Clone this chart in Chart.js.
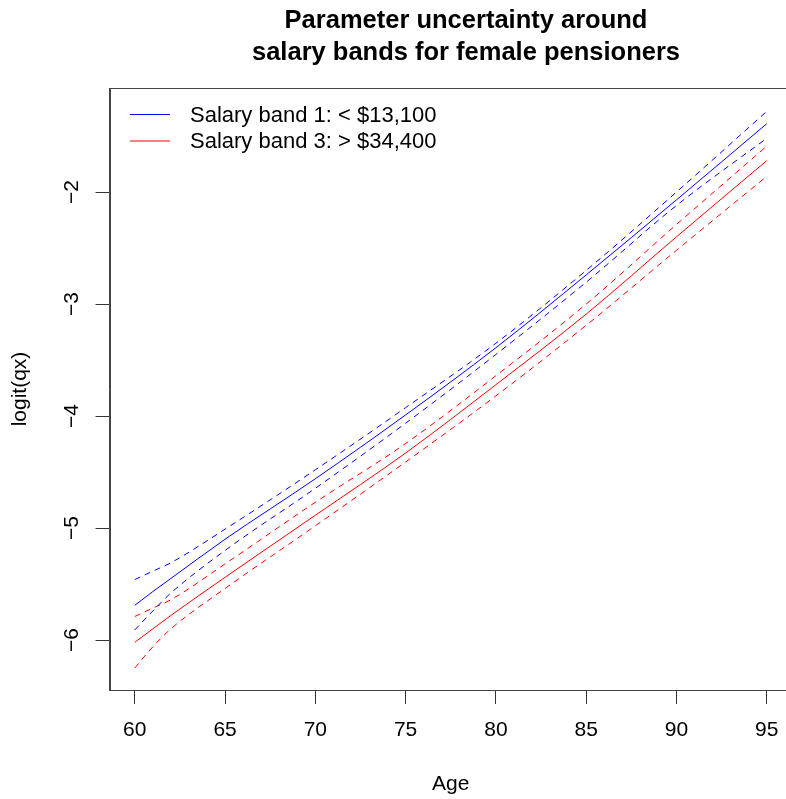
<!DOCTYPE html>
<html>
<head>
<meta charset="utf-8">
<script src="https://cdn.jsdelivr.net/npm/chart.js@4.4.1/dist/chart.umd.min.js"></script>
<style>
  html, body { margin: 0; padding: 0; background: #fff; }
  #wrap { width: 786px; height: 799px; overflow: hidden; }
  canvas { display: block; }
</style>
</head>
<body>
<div id="wrap"><canvas id="grafico" width="800" height="799"></canvas></div>
<script>
// idades e logit(qx)
const ages = [60, 61, 62, 65, 70, 75, 80, 85, 90, 95];

const band1Mid   = [-5.69, -5.567, -5.45, -5.10, -4.56, -3.99, -3.39, -2.74, -2.07, -1.39];
const band1Upper = [-5.46, -5.385, -5.31, -5.01, -4.48, -3.925, -3.35, -2.70, -2.00, -1.28];
const band1Lower = [-5.91, -5.74, -5.58, -5.20, -4.645, -4.064, -3.45, -2.805, -2.12, -1.52];

const band3Mid   = [-6.02, -5.90, -5.78, -5.44, -4.886, -4.33, -3.72, -3.09, -2.40, -1.72];
const band3Upper = [-5.79, -5.714, -5.64, -5.32, -4.77, -4.245, -3.64, -3.00, -2.29, -1.59];
const band3Lower = [-6.25, -6.06, -5.90, -5.54, -4.98, -4.41, -3.82, -3.19, -2.52, -1.86];

const ageTicks = [60, 65, 70, 75, 80, 85, 90, 95];
const logitTicks = [-6, -5, -4, -3, -2];

const titleLines = ['Parameter uncertainty around', 'salary bands for female pensioners'];
const legendLabels = ['Salary band 1: < $13,100', 'Salary band 3: > $34,400'];

const FONT = "'Liberation Sans', Arial, sans-serif";
const AZUL = '#0000ff';
const VERMELHO = '#ff0000';

function serie(label, valores, cor, tracejada) {
  return {
    label,
    data: ages.map((a, i) => ({ x: a, y: valores[i] })),
    borderColor: cor,
    backgroundColor: cor,
    borderWidth: 1,
    borderDash: tracejada ? [6, 5] : [],
    pointRadius: 0,
    cubicInterpolationMode: 'monotone',
    fill: false,
  };
}

const datasets = [
  serie(legendLabels[0], band1Mid, AZUL, false),
  serie('band1 upper', band1Upper, AZUL, true),
  serie('band1 lower', band1Lower, AZUL, true),
  serie(legendLabels[1], band3Mid, VERMELHO, false),
  serie('band3 upper', band3Upper, VERMELHO, true),
  serie('band3 lower', band3Lower, VERMELHO, true),
];

// moldura, título e legenda no estilo do R
const pluginMoldura = {
  id: 'moldura',
  afterDraw(chart) {
    const { ctx, chartArea } = chart;
    const { left, right, top, bottom } = chartArea;
    ctx.save();
    ctx.strokeStyle = '#444';
    ctx.lineWidth = 1;
    ctx.strokeRect(Math.round(left) + 0.5, Math.round(top) + 0.5,
      Math.round(right - left), Math.round(bottom - top));

    ctx.fillStyle = '#000';
    ctx.font = `bold 25.5px ${FONT}`;
    ctx.textAlign = 'center';
    ctx.textBaseline = 'alphabetic';
    ctx.fillText(titleLines[0], 466, 27.5);
    ctx.fillText(titleLines[1], 466, 60);

    const cores = [AZUL, VERMELHO];
    const ys = [114.5, 141];
    ctx.font = `22px ${FONT}`;
    ctx.textAlign = 'left';
    ctx.textBaseline = 'middle';
    legendLabels.forEach((txt, i) => {
      ctx.strokeStyle = cores[i];
      ctx.lineWidth = 1;
      ctx.beginPath();
      ctx.moveTo(130, ys[i]);
      ctx.lineTo(170, ys[i]);
      ctx.stroke();
      ctx.fillStyle = '#000';
      ctx.fillText(txt, 190, ys[i] + 1);
    });
    ctx.restore();
  }
};

new Chart(document.getElementById('grafico'), {
  type: 'line',
  data: { datasets },
  plugins: [pluginMoldura],
  options: {
    responsive: false,
    animation: false,
    layout: { padding: { top: 88, right: 8, left: 0, bottom: 0 } },
    plugins: {
      legend: { display: false },
      tooltip: { enabled: false },
    },
    scales: {
      x: {
        type: 'linear',
        min: 58.6,
        max: 96.4,
        afterFit(s) { s.height = 109; },
        afterBuildTicks(s) { s.ticks = ageTicks.map(v => ({ value: v })); },
        grid: { drawOnChartArea: false, drawTicks: true, tickLength: 14, color: '#333' },
        border: { display: true, color: '#444', width: 1 },
        ticks: { color: '#000', font: { family: FONT, size: 21 }, padding: 14, callback: v => String(v) },
        title: { display: true, text: 'Age', color: '#000', font: { family: FONT, size: 21 }, padding: { top: 0, bottom: 2 } },
      },
      y: {
        type: 'linear',
        min: -6.446,
        max: -1.071,
        afterFit(s) { s.width = 109.5; },
        afterBuildTicks(s) { s.ticks = logitTicks.map(v => ({ value: v })); },
        grid: { drawOnChartArea: false, drawTicks: true, tickLength: 14, color: '#333' },
        border: { display: true, color: '#444', width: 1 },
        ticks: {
          color: '#000',
          font: { family: FONT, size: 21 },
          minRotation: 90,
          maxRotation: 90,
          crossAlign: 'center',
          padding: 11,
          callback: v => '\u2212' + Math.abs(v),
        },
        title: { display: true, text: 'logit(qx)', color: '#000', font: { family: FONT, size: 21 }, padding: { top: 8, bottom: 0 } },
      },
    },
  },
});
</script>
</body>
</html>
